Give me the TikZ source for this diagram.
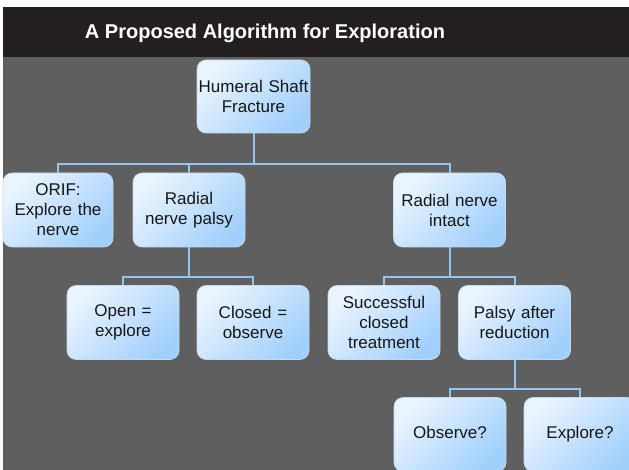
\documentclass[tikz,border=0pt]{standalone}
\usepackage{fontspec}
\setmainfont{Liberation Sans}
\definecolor{barcol}{HTML}{231F20}
\definecolor{bgcol}{HTML}{5F5F5F}
\definecolor{boxlight}{HTML}{EAF4FF}
\definecolor{boxmid}{HTML}{DCEDFF}
\definecolor{boxdark}{HTML}{A2D0FC}
\definecolor{boxedge}{HTML}{C4DBEF}
\definecolor{conncol}{HTML}{92C5F0}
\definecolor{txtcol}{HTML}{161616}
\tikzset{
  box/.style={draw=boxedge, line width=0.6pt, rounded corners=9pt,
    top color=boxlight, middle color=boxmid, bottom color=boxdark, shading angle=45,
    minimum width=112pt, minimum height=74pt, text width=110pt, align=center,
    inner sep=0pt, text=txtcol,
    font=\fontsize{17pt}{20pt}\selectfont},
  conn/.style={draw=conncol, line width=2pt},
  titletext/.style={text=white, font=\bfseries\fontsize{20pt}{24pt}\selectfont, inner sep=0pt}
}
\begin{document}
\begin{tikzpicture}[x=1pt,y=-1pt]
\useasboundingbox (0,0) rectangle (629,470);
\clip (0,0) rectangle (629,470);
\fill[white] (0,0) rectangle (629,470);
\fill[bgcol] (3,57) rectangle (629,470);
\fill[barcol] (3,7) rectangle (629,57);
\node[titletext] (title) at (265,33) {A Proposed Algorithm for Exploration};

\node[box, minimum width=113pt, minimum height=73pt] (hsf) at (253.5,96.5) {Humeral Shaft\\Fracture};
\node[box, minimum width=110pt] (orif) at (58,210) {ORIF:\\Explore the\\nerve};
\node[box] (palsy) at (189,210) {Radial\\nerve palsy};
\node[box] (intact) at (449.5,210) {Radial nerve\\intact};
\node[box] (open) at (123,322.5) {Open =\\explore};
\node[box] (closed) at (253,322.5) {Closed =\\observe};
\node[box] (success) at (384,322.5) {Successful\\closed\\treatment};
\node[box] (after) at (514.5,322.5) {Palsy after\\reduction};
\node[box] (observe) at (450,434.5) {\strut Observe?};
\node[box] (explore) at (580,434.5) {\strut Explore?};

\coordinate (b1) at (253.5,164);
\coordinate (b2) at (189,277);
\coordinate (b3) at (449.5,277);
\coordinate (b4) at (514.5,389);

\draw[conn] (hsf.south) -- (b1);
\draw[conn] (orif.north) |- (b1) -| (intact.north);
\draw[conn] (palsy.north) -- (palsy.north |- b1);

\draw[conn] (palsy.south) -- (b2);
\draw[conn] (open.north) |- (b2) -| (closed.north);

\draw[conn] (intact.south) -- (b3);
\draw[conn] (success.north) |- (b3) -| (after.north);

\draw[conn] (after.south) -- (b4);
\draw[conn] (observe.north) |- (b4) -| (explore.north);
\end{tikzpicture}
\end{document}
